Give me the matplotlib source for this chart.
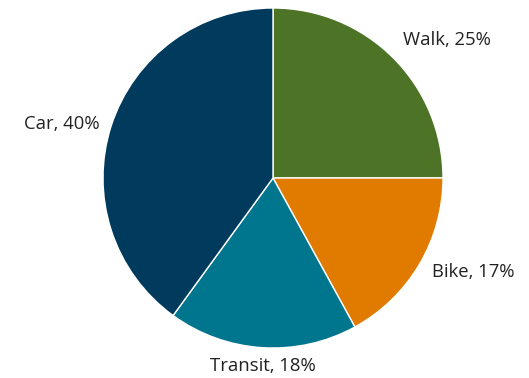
import matplotlib
matplotlib.use("Agg")
import matplotlib.pyplot as plt

categories = ["Walk", "Bike", "Transit", "Car"]
values = [25, 17, 18, 40]
colors = ["#4d7326", "#e07b00", "#00768e", "#003a5c"]

plt.rcParams['font.family'] = ['Open Sans', 'DejaVu Sans']

fig = plt.figure(figsize=(5.29, 3.78), dpi=100)
ax = fig.add_axes([103/529, 30/378, 340/529, 340/378])
labels = [f"{c}, {v}%" for c, v in zip(categories, values)]
wedges, texts = ax.pie(values, colors=colors, startangle=90, counterclock=False,
                       labels=labels, labeldistance=1.09,
                       wedgeprops=dict(edgecolor="white", linewidth=1.0),
                       textprops=dict(fontsize=13.3, color="#222222"))
# label placement (x, y, ha) in pie radius units
label_pos = {"Walk": (0.765, 0.812, "left"), "Bike": (0.935, -0.553, "left"),
             "Transit": (-0.059, -1.106, "center"), "Car": (-1.018, 0.318, "right")}
for t, c in zip(texts, categories):
    x, y, ha = label_pos[c]
    t.set_position((x, y))
    t.set_ha(ha)
    t.set_va("center")
ax.set_aspect("equal")
ax.set_xlim(-1, 1)
ax.set_ylim(-1, 1)
fig.savefig("out.png", dpi=100)
